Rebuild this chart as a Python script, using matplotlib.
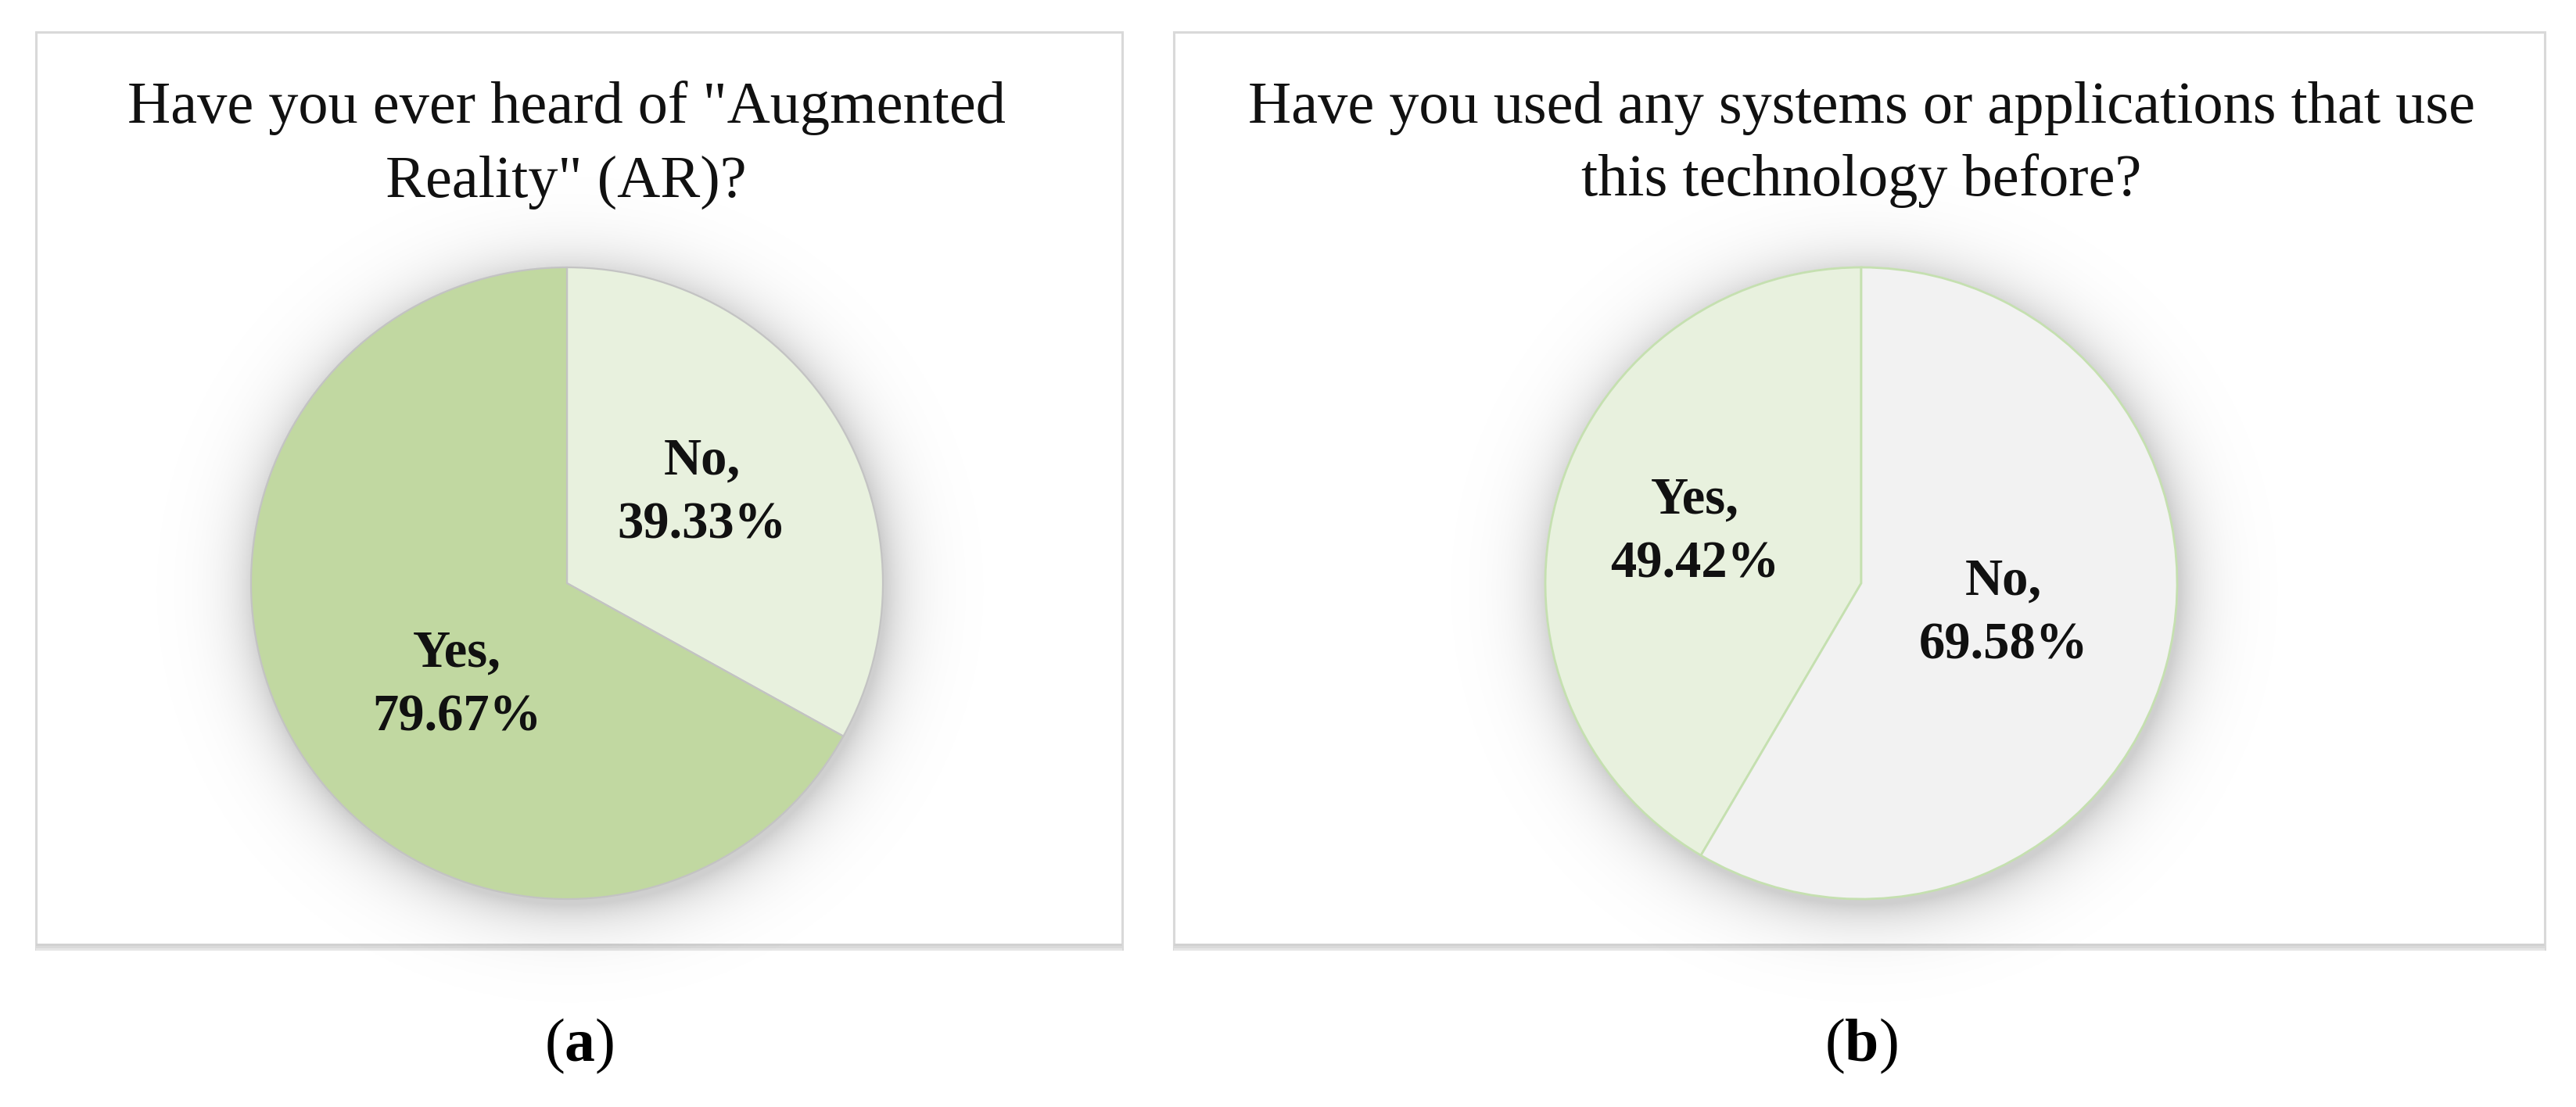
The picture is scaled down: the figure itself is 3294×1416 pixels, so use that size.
import numpy as np
import matplotlib
matplotlib.use("Agg")
import matplotlib.pyplot as plt
from matplotlib.patches import Rectangle

plt.rcParams['font.family'] = ['Liberation Serif', 'DejaVu Serif']
plt.rcParams['mathtext.fontset'] = 'custom'
plt.rcParams['mathtext.rm'] = 'Liberation Serif'
plt.rcParams['mathtext.bf'] = 'Liberation Serif:bold'

# ---- data ----
title_a = ['Have you ever heard of "Augmented', 'Reality" (AR)?']
cats_a = ['No', 'Yes']
vals_a = [39.33, 79.67]

title_b = ['Have you used any systems or applications that use', 'this technology before?']
cats_b = ['Yes', 'No']
vals_b = [49.42, 69.58]

panel_tags = ['a', 'b']

# ---- layout (pixels) ----
W, H = 3294, 1416
DPI = 100
fig = plt.figure(figsize=(W / DPI, H / DPI), dpi=DPI)
fig.patch.set_facecolor('white')


def fx(px):
    return px / W


def fy(py):
    return 1 - py / H


R = 404      # pie radius in px
S = 540      # half size of pie axes in px
LIM = S / R


def add_box(x0, y0, x1, y1):
    fig.patches.append(Rectangle((fx(x0), fy(y1)), fx(x1) - fx(x0), fy(y0) - fy(y1),
                                 transform=fig.transFigure, facecolor='white',
                                 edgecolor='#D9D9D9', lw=2.2, zorder=0))
    # bottom shadow band
    for i, c in enumerate(['#E6E6E6', '#DADADA', '#D2D2D2']):
        fig.patches.append(Rectangle((fx(x0), fy(y1 + 2 - i * 3)), fx(x1) - fx(x0), 3 / H,
                                     transform=fig.transFigure, facecolor=c,
                                     edgecolor='none', zorder=0.5))


def pie_axes(cx, cy):
    ax = fig.add_axes([fx(cx - S), fy(cy + S), 2 * S / W, 2 * S / H])
    ax.set_zorder(2)
    ax.patch.set_alpha(0)
    # soft shadow around the pie
    g = np.linspace(-LIM, LIM, 600)
    X, Y = np.meshgrid(g, g)
    r = np.hypot(X - 0.01, Y + 0.02)
    a = np.where(r < 1, 0.19, 0.19 * np.exp(-(r - 1) / 0.08))
    img = np.zeros((600, 600, 4))
    img[..., 3] = a
    ax.imshow(img, extent=(-LIM, LIM, -LIM, LIM), origin='lower', zorder=0,
              interpolation='bilinear')
    return ax


LBL = dict(ha='center', va='center', fontsize=48, fontweight='bold',
           linespacing=1.45, color='#111111', zorder=5)
TTL = dict(ha='center', va='baseline', fontsize=55, color='#111111')

# ---- panel a ----
add_box(46, 41, 1435, 1214)
cxa, cya = 725, 746
ax = pie_axes(cxa, cya)
ax.pie(vals_a, colors=['#E8F1DE', '#C1D8A1'], startangle=90, counterclock=False,
       radius=1, wedgeprops=dict(edgecolor='#C3C3C3', linewidth=1.6))
for c, v, (tx, ty) in zip(cats_a, vals_a, [(0.428, 0.285), (-0.347, -0.324)]):
    ax.text(tx, ty, f'{c},\n{v:.2f}%', **LBL)
ax.set_xlim(-LIM, LIM)
ax.set_ylim(-LIM, LIM)
ax.set_aspect('auto')
ax.axis('off')

fig.text(fx(724), fy(157), title_a[0], **TTL)
fig.text(fx(724), fy(252), title_a[1], **TTL)

# ---- panel b ----
add_box(1501, 41, 3254, 1214)
cxb, cyb = 2380, 746
ax2 = pie_axes(cxb, cyb)
ax2.pie(vals_b, colors=['#E8F1DE', '#F2F2F2'], startangle=90, counterclock=True,
        radius=1, wedgeprops=dict(edgecolor='#C5E0B0', linewidth=2.0))
for c, v, (tx, ty) in zip(cats_b, vals_b, [(-0.527, 0.161), (0.450, -0.097)]):
    ax2.text(tx, ty, f'{c},\n{v:.2f}%', **LBL)
ax2.set_xlim(-LIM, LIM)
ax2.set_ylim(-LIM, LIM)
ax2.set_aspect('auto')
ax2.axis('off')

fig.text(fx(2380), fy(157), title_b[0], **TTL)
fig.text(fx(2380), fy(250), title_b[1], **TTL)

# ---- sub-captions ----
for tag, x in zip(panel_tags, [741, 2380]):
    fig.text(fx(x), fy(1338), '($\\mathbf{' + tag + '}$)', ha='center', va='center',
             fontsize=56, color='black')

fig.savefig('out.png', dpi=DPI, facecolor='white')
